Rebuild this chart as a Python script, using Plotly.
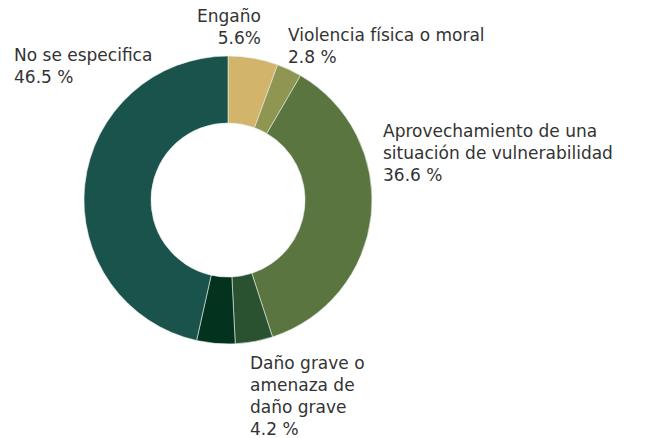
import plotly.graph_objects as go

# Medios comisivos (porcentaje de casos)
labels = ["Engaño", "Violencia física o moral",
          "Aprovechamiento de una situación de vulnerabilidad",
          "Daño grave o amenaza de daño grave", "Otros medios", "No se especifica"]
values = [5.6, 2.8, 36.6, 4.2, 4.3, 46.5]
colors = ["#D2B56B", "#8E9651", "#5B7540", "#2A5231", "#03321F", "#1A534B"]

# Text blocks shown next to the ring (None = no label)
label_text = [
    "Engaño<br>5.6%",
    "Violencia física o moral<br>2.8 %",
    "Aprovechamiento de una<br>situación de vulnerabilidad<br>36.6 %",
    "Daño grave o<br>amenaza de<br>daño grave<br>4.2 %",
    None,
    "No se especifica<br>46.5 %",
]
# placement of each text block in paper coordinates: (x, y, xanchor, align)
label_pos = [
    (263 / 648, 1 - 4 / 438, "right", "right"),
    (286 / 648, 1 - 23 / 438, "left", "left"),
    (381 / 648, 1 - 119 / 438, "left", "left"),
    (248 / 648, 1 - 351 / 438, "left", "left"),
    None,
    (12 / 648, 1 - 43 / 438, "left", "left"),
]

fig = go.Figure(go.Pie(
    labels=labels,
    values=values,
    sort=False,
    direction="clockwise",
    rotation=0,
    hole=0.535,
    marker=dict(colors=colors, line=dict(color="#E8EFE8", width=0.6)),
    textinfo="none",
    hoverinfo="label+percent",
    showlegend=False,
    domain=dict(x=[84 / 648, 372 / 648], y=[1 - 344 / 438, 1 - 56 / 438]),
))

font = dict(family="DejaVu Sans", size=17, color="#333333")
for txt, pos in zip(label_text, label_pos):
    if txt is None:
        continue
    x, y, xa, al = pos
    fig.add_annotation(
        text=txt, x=x, y=y, xref="paper", yref="paper",
        xanchor=xa, yanchor="top", align=al, showarrow=False, font=font,
    )

fig.update_layout(
    width=648, height=438,
    margin=dict(l=0, r=0, t=0, b=0),
    paper_bgcolor="white",
    plot_bgcolor="white",
)

fig.write_html("out.html")
